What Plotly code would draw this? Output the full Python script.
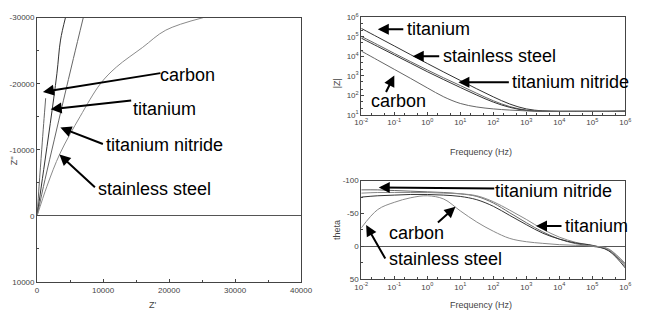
import plotly.graph_objects as go

W, H = 647, 315

# ---------------- data ----------------
# Nyquist plot (Z', Z'')
carbon_zr = [0, 300, 700, 1000, 1300]
carbon_zi = [0, -4500, -10000, -14000, -17800]
titanium_zr = [0, 1000, 2000, 3000, 3550, 4300]
titanium_zi = [0, -7000, -14000, -21500, -26600, -30000]
tin_zr = [0, 1200, 2600, 4000, 5500, 7000]
tin_zi = [0, -5500, -11500, -17500, -23800, -30000]
ss_zr = [0, 1500, 3500, 6500, 9600, 12000, 16000, 19500, 25200]
ss_zi = [0, -4500, -9500, -15000, -20000, -22500, -25500, -28100, -30000]

# Bode plots
freq = [1e-2, 3.16e-2, 1e-1, 3.16e-1, 1e0, 3.16e0, 1e1, 3.16e1, 1e2, 3.16e2,
        1e3, 3.16e3, 1e4, 3.16e4, 1e5, 3.16e5, 1e6]
z_titanium = [269000, 95500, 33900, 12000, 4270, 1550, 575, 214, 83, 35.5,
              20, 15.8, 15.1, 15.1, 15.1, 15.1, 15.5]
z_ss = [105000, 38900, 14100, 5250, 2000, 776, 316, 126, 52.5, 26.3,
        17.4, 15.5, 15.1, 15.1, 15.1, 15.1, 15.3]
z_tin = [85100, 31600, 11700, 4370, 1620, 631, 251, 102, 44.7, 24,
         16.6, 15.1, 14.8, 14.8, 14.8, 14.8, 15]
z_carbon = [18600, 6310, 2140, 724, 240, 83, 38, 25.1, 20, 17.4,
            15.8, 15.1, 14.8, 14.8, 14.8, 14.8, 15]

th_tin = [-86, -86, -85, -84, -83, -82, -80, -76, -66, -51, -36, -22, -11, -4, 0, 6, 30]
th_titanium = [-81, -82, -82, -82, -82, -81, -80, -77, -68, -55, -41, -26, -14, -6, -1, 5, 26]
th_ss = [-75, -77, -78, -79, -79, -78, -76, -71, -61, -47, -33, -20, -11, -5, -1.5, 7, 33]
th_carbon = [-28, -56, -67, -74, -77, -72, -54, -37, -23, -12, -7, -4.5, -2.5, -1.5, -0.5, 4, 28]

# tick labels
nyq_xticks = [0, 10000, 20000, 30000, 40000]
nyq_xticktext = ["0", "10000", "20000", "30000", "40000"]
nyq_yticks = [-30000, -20000, -10000, 0, 10000]
nyq_yticktext = ["-30000", "-20000", "-10000", "0", "10000"]
freq_ticks = [1e-2, 1e-1, 1e0, 1e1, 1e2, 1e3, 1e4, 1e5, 1e6]
freq_ticktext = ["10<sup>-2</sup>", "10<sup>-1</sup>", "10<sup>0</sup>", "10<sup>1</sup>",
                 "10<sup>2</sup>", "10<sup>3</sup>", "10<sup>4</sup>", "10<sup>5</sup>",
                 "10<sup>6</sup>"]
z_ticks = [1e1, 1e2, 1e3, 1e4, 1e5, 1e6]
z_ticktext = ["10<sup>1</sup>", "10<sup>2</sup>", "10<sup>3</sup>", "10<sup>4</sup>",
              "10<sup>5</sup>", "10<sup>6</sup>"]
th_ticks = [-100, -50, 0, 50]
th_ticktext = ["-100", "-50", "0", "50"]

# ---------------- figure ----------------
fig = go.Figure()

def px_x(p):
    return p / W

def px_y(p):
    return 1 - p / H

DARK = "#333333"
MID = "#666666"
LIGHT = "#8a8a8a"

# Nyquist
for xs, ys, c in [(carbon_zr, carbon_zi, MID), (titanium_zr, titanium_zi, DARK),
                  (tin_zr, tin_zi, MID), (ss_zr, ss_zi, LIGHT)]:
    fig.add_trace(go.Scatter(x=xs, y=ys, mode="lines", line=dict(color=c, width=1, shape="spline"),
                             xaxis="x", yaxis="y", showlegend=False))

# |Z|
for ys, c in [(z_titanium, DARK), (z_ss, MID), (z_tin, DARK), (z_carbon, MID)]:
    fig.add_trace(go.Scatter(x=freq, y=ys, mode="lines", line=dict(color=c, width=1, shape="spline"),
                             xaxis="x2", yaxis="y2", showlegend=False))

# theta
for ys, c in [(th_tin, MID), (th_titanium, LIGHT), (th_ss, DARK), (th_carbon, LIGHT)]:
    fig.add_trace(go.Scatter(x=freq, y=ys, mode="lines", line=dict(color=c, width=1, shape="spline"),
                             xaxis="x3", yaxis="y3", showlegend=False))

tickfont = dict(family="Liberation Sans, Arial", size=8, color="#444")
axcommon = dict(showline=True, linecolor="#444", linewidth=1, mirror=True, showgrid=False,
                ticks="inside", ticklen=3, tickcolor="#444", tickfont=tickfont)
minor_lin = lambda d: dict(dtick=d, ticks="inside", ticklen=2, tickcolor="#444", showgrid=False)
minor_log = dict(ticks="inside", ticklen=2, tickcolor="#444", showgrid=False)

fig.update_layout(
    width=W, height=H, margin=dict(l=0, r=0, t=0, b=0),
    paper_bgcolor="white", plot_bgcolor="white",
    xaxis=dict(domain=[px_x(31), px_x(303)], range=[0, 40000], anchor="y",
               tickvals=nyq_xticks, ticktext=nyq_xticktext, minor=minor_lin(5000),
               zeroline=False, **axcommon),
    yaxis=dict(domain=[px_y(286), px_y(12)], range=[10000, -30000], anchor="x",
               tickvals=nyq_yticks, ticktext=nyq_yticktext, minor=minor_lin(5000),
               zeroline=True, zerolinecolor="#555", zerolinewidth=1, **axcommon),
    xaxis2=dict(domain=[px_x(365), px_x(637)], type="log", range=[-2, 6], anchor="y2",
                tickvals=freq_ticks, ticktext=freq_ticktext, minor=minor_log,
                zeroline=False, **axcommon),
    yaxis2=dict(domain=[px_y(112.7), px_y(11.7)], type="log", range=[1, 6], anchor="x2",
                tickvals=z_ticks, ticktext=z_ticktext, minor=minor_log,
                zeroline=False, **axcommon),
    xaxis3=dict(domain=[px_x(365), px_x(637)], type="log", range=[-2, 6], anchor="y3",
                tickvals=freq_ticks, ticktext=freq_ticktext, minor=minor_log,
                zeroline=False, **axcommon),
    yaxis3=dict(domain=[px_y(283), px_y(181)], range=[50, -100], anchor="x3",
                tickvals=th_ticks, ticktext=th_ticktext, minor=minor_lin(25),
                zeroline=True, zerolinecolor="#555", zerolinewidth=1, **axcommon),
)

ann = []
LBL = dict(family="Liberation Sans, Arial", size=18, color="black")
TTL = dict(family="Liberation Sans, Arial", size=9, color="#444")

def label(text, left, cy):
    ann.append(dict(text=text, x=px_x(left), y=px_y(cy), xref="paper", yref="paper",
                    xanchor="left", yanchor="middle", showarrow=False, font=LBL))

def arrow(tail, tip):
    ann.append(dict(text="", x=px_x(tip[0]), y=px_y(tip[1]), xref="paper", yref="paper",
                    ax=tail[0] - tip[0], ay=tail[1] - tip[1], showarrow=True,
                    arrowhead=2, arrowsize=1.1, arrowwidth=2, arrowcolor="black"))

def title(text, cx, cy, angle=0):
    ann.append(dict(text=text, x=px_x(cx), y=px_y(cy), xref="paper", yref="paper",
                    xanchor="center", yanchor="middle", showarrow=False, font=TTL, textangle=angle))

# left panel
label("carbon", 156, 71); arrow((156, 70), (37, 89))
label("titanium", 128, 107); arrow((127, 98), (45, 107))
label("titanium nitride", 100, 144); arrow((99, 143), (55, 126))
label("stainless steel", 92, 190); arrow((91, 188), (54, 154))
# top right
label("titanium", 410, 24); arrow((409, 24), (382, 24))
label("stainless steel", 447, 52); arrow((446, 52), (418, 52))
label("titanium nitride", 518, 79); arrow((517, 79), (465, 79))
label("carbon", 373, 98); arrow((390, 90), (399, 72))
# bottom right
label("titanium nitride", 501, 192); arrow((500, 189), (383, 188))
label("titanium", 573, 228); arrow((572, 228), (545, 228))
label("carbon", 392, 235); arrow((443, 225), (462, 208))
label("stainless steel", 392, 262); arrow((390, 262), (370, 227))

# axis titles
title("Z''", 8, 160, -90)
title("Z'", 150, 310)
title("|Z|", 340, 80, -90)
title("Frequency (Hz)", 488, 151)
title("theta", 340, 232, -90)
title("Frequency (Hz)", 488, 310)

fig.update_layout(annotations=ann)
fig.write_html("out.html")
